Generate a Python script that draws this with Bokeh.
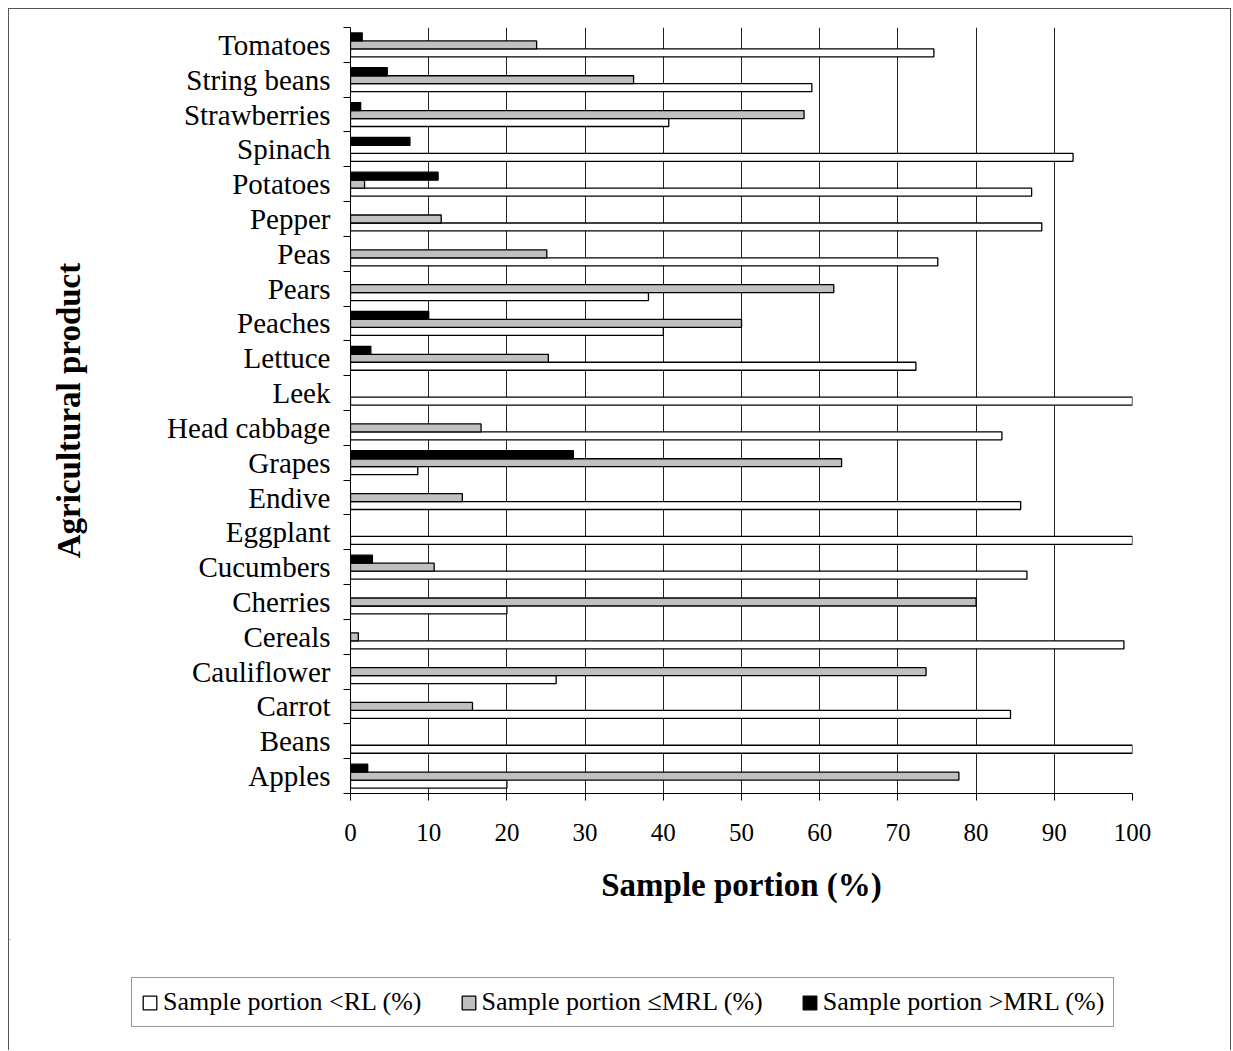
from bokeh.plotting import figure
from bokeh.models import (Range1d, FixedTicker, ColumnDataSource, Legend, LegendItem)
from bokeh.embed import file_html
from bokeh.resources import INLINE

# ---- data (bottom to top) ----
categories = ["Apples", "Beans", "Carrot", "Cauliflower", "Cereals", "Cherries",
              "Cucumbers", "Eggplant", "Endive", "Grapes", "Head cabbage", "Leek",
              "Lettuce", "Peaches", "Pears", "Peas", "Pepper", "Potatoes", "Spinach",
              "Strawberries", "String beans", "Tomatoes"]
below_rl = [20.0, 100.0, 84.4, 26.3, 98.9, 20.0, 86.5, 100.0, 85.7, 8.6, 83.3, 100.0,
            72.3, 40.0, 38.1, 75.1, 88.4, 87.1, 92.4, 40.7, 59.0, 74.6]
le_mrl = [77.8, 0.0, 15.6, 73.6, 1.0, 80.0, 10.7, 0.0, 14.3, 62.8, 16.7, 0.0,
          25.3, 50.0, 61.8, 25.1, 11.6, 1.8, 0.0, 58.0, 36.2, 23.8]
gt_mrl = [2.2, 0.0, 0.0, 0.0, 0.0, 0.0, 2.8, 0.0, 0.0, 28.5, 0.0, 0.0,
          2.6, 10.0, 0.0, 0.0, 0.0, 11.2, 7.6, 1.3, 4.7, 1.5]
series_names = ["Sample portion <RL (%)", "Sample portion \u2264MRL (%)", "Sample portion >MRL (%)"]
series_fills = ["white", "#c0c0c0", "black"]
x_ticks = [0, 10, 20, 30, 40, 50, 60, 70, 80, 90, 100]

SERIF = "Liberation Serif"
BAR_H = 0.229
W = 1223
H_MAIN = 931
H_LEG = 111
BORDER = "1px solid #555"

p = figure(width=W, height=H_MAIN, output_backend="svg", toolbar_location=None,
           x_range=Range1d(0, 100), y_range=Range1d(-0.5, len(categories) - 0.5),
           min_border_left=341, min_border_right=100, min_border_top=18,
           min_border_bottom=147)
p.outline_line_color = None
p.background_fill_color = "white"
p.border_fill_color = "white"
p.styles = {"margin": "8px 0px 0px 8px",
            "border-top": BORDER, "border-left": BORDER, "border-right": BORDER}


def make_src(vals, offset):
    ys, xs = [], []
    for i, v in enumerate(vals):
        if v > 0:
            ys.append(i + offset)
            xs.append(v)
    return ColumnDataSource(dict(y=ys, right=xs))


for vals, off, fc in zip([below_rl, le_mrl, gt_mrl], [-BAR_H, 0.0, BAR_H], series_fills):
    p.hbar(y="y", right="right", left=0, height=BAR_H, source=make_src(vals, off),
           fill_color=fc, line_color="black", line_width=1.3)

# x axis
xa = p.xaxis[0]
xa.ticker = FixedTicker(ticks=x_ticks)
xa.axis_line_color = "black"
xa.major_tick_line_color = "black"
xa.major_tick_out = 7
xa.major_tick_in = 0
xa.minor_tick_line_color = None
xa.major_label_text_font = SERIF
xa.major_label_text_font_size = "25px"
xa.major_label_text_color = "black"
xa.major_label_standoff = 23
xa.axis_label = "Sample portion (%)"
xa.axis_label_text_font = SERIF
xa.axis_label_text_font_size = "33px"
xa.axis_label_text_font_style = "bold"
xa.axis_label_text_color = "black"
xa.axis_label_standoff = 23

# y axis
ya = p.yaxis[0]
ya.ticker = FixedTicker(ticks=list(range(len(categories))),
                        minor_ticks=[i - 0.5 for i in range(len(categories) + 1)])
ya.major_label_overrides = {i: c for i, c in enumerate(categories)}
ya.axis_line_color = "black"
ya.major_tick_line_color = None
ya.major_tick_out = 0
ya.major_tick_in = 0
ya.minor_tick_line_color = "black"
ya.minor_tick_out = 7
ya.minor_tick_in = 0
ya.major_label_text_font = SERIF
ya.major_label_text_font_size = "29px"
ya.major_label_text_color = "black"
ya.major_label_standoff = 13
ya.axis_label = "Agricultural product"
ya.axis_label_text_font = SERIF
ya.axis_label_text_font_size = "33px"
ya.axis_label_text_font_style = "bold"
ya.axis_label_text_color = "black"
ya.axis_label_standoff = 77

p.xgrid.grid_line_color = "#222222"
p.xgrid.grid_line_width = 1
p.ygrid.visible = False

# ---- legend strip (separate root so its frame is not aligned with the chart) ----
pl = figure(width=W, height=H_LEG, output_backend="svg", toolbar_location=None,
            x_range=Range1d(0, 1), y_range=Range1d(0, 1),
            x_axis_type=None, y_axis_type=None,
            min_border_left=0, min_border_right=0, min_border_top=0, min_border_bottom=0)
pl.outline_line_color = None
pl.grid.visible = False
pl.background_fill_color = "white"
pl.border_fill_color = "white"
pl.styles = {"margin": "0px 0px 0px 8px",
             "border-left": BORDER, "border-right": BORDER}
items = []
for name, fc in zip(series_names, series_fills):
    # one zero-width key bar outside the visible range (only the legend key shows)
    r = pl.hbar(y=[5.0], right=[0.0], left=0, height=0.1, fill_color=fc,
                line_color="black", line_width=1.3)
    items.append(LegendItem(label=name, renderers=[r]))

legend = Legend(items=items, orientation="horizontal", location=(122, 23),
                glyph_width=17, glyph_height=17, label_standoff=5, spacing=38,
                padding=9, margin=0,
                label_text_font=SERIF, label_text_font_size="26px",
                label_text_color="black",
                border_line_color="#333333", border_line_width=1,
                background_fill_color="white", background_fill_alpha=1.0)
pl.add_layout(legend, "center")

open("out.html", "w").write(file_html([p, pl], INLINE))
